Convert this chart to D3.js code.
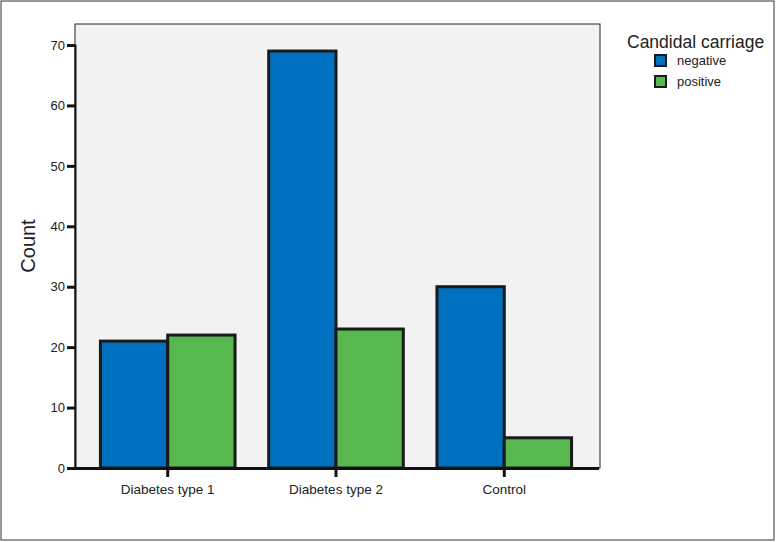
<!DOCTYPE html>
<html><head><meta charset="utf-8">
<script src="https://cdn.jsdelivr.net/npm/d3@7"></script>
<style>body{margin:0;background:#fff;}svg{display:block;font-family:"Liberation Sans",Arial,sans-serif;}</style>
</head><body><div id="chart"></div>
<script>
const categories = ["Diabetes type 1", "Diabetes type 2", "Control"];
const seriesNames = ["negative", "positive"];
const negative = [21, 69, 30];
const positive = [22, 23, 5];
const yTicks = [0, 10, 20, 30, 40, 50, 60, 70];
const colors = ["#0070c0", "#57b84f"];

const W = 776, H = 542;
const svg = d3.select("#chart").append("svg").attr("width", W).attr("height", H);
svg.append("rect").attr("x", 1).attr("y", 1).attr("width", W - 3).attr("height", H - 3)
  .attr("fill", "#fff").attr("stroke", "#333").attr("stroke-width", 1);

const L = 75, R = 600, T = 24, B = 468;
svg.append("rect").attr("x", L).attr("y", T).attr("width", R - L).attr("height", B - T)
  .attr("fill", "#f2f2f2").attr("stroke", "#222").attr("stroke-width", 1);

const x0 = d3.scaleBand().domain(categories).range([L - 1.5, R - 1.5]).paddingInner(0.2).paddingOuter(0.16);
const x1 = d3.scaleBand().domain(seriesNames).range([0, x0.bandwidth()]);
const y = d3.scaleLinear().domain([0, 70]).range([B, 45]);

const data = categories.map((c, i) => ({cat: c, vals: [negative[i], positive[i]]}));
const g = svg.append("g");
data.forEach(d => {
  d.vals.forEach((v, j) => {
    g.append("rect")
      .attr("x", x0(d.cat) + x1(seriesNames[j]))
      .attr("y", y(v))
      .attr("width", x1.bandwidth())
      .attr("height", B - y(v))
      .attr("fill", colors[j])
      .attr("stroke", "#1a1a1a").attr("stroke-width", 3);
  });
});

// Y axis
const yAxis = svg.append("g").attr("transform", `translate(${L},0)`)
  .call(d3.axisLeft(y).tickValues(yTicks).tickSize(8).tickPadding(2));
yAxis.select(".domain").attr("stroke", "#111").attr("stroke-width", 2);
yAxis.selectAll(".tick line").attr("stroke", "#111").attr("stroke-width", 3);
yAxis.selectAll(".tick text").attr("font-size", 13).attr("fill", "#222").attr("font-family", "Liberation Sans, Arial, sans-serif");

// X axis
const xAxis = svg.append("g").attr("transform", `translate(0,${B})`)
  .call(d3.axisBottom(x0).tickSize(9).tickPadding(7).tickSizeOuter(0));
xAxis.select(".domain").attr("stroke", "#111").attr("stroke-width", 3);
xAxis.selectAll(".tick line").attr("stroke", "#111").attr("stroke-width", 3);
xAxis.selectAll(".tick text").attr("font-size", 13.5).attr("fill", "#222").attr("font-family", "Liberation Sans, Arial, sans-serif");

// Y label
svg.append("text").attr("transform", "translate(35,246) rotate(-90)")
  .attr("text-anchor", "middle").attr("font-size", 20).attr("fill", "#222").text("Count");

// Legend
svg.append("text").attr("x", 627).attr("y", 48).attr("font-size", 17.5).attr("fill", "#222").text("Candidal carriage");
seriesNames.forEach((s, i) => {
  svg.append("rect").attr("x", 655).attr("y", 55 + i * 21).attr("width", 11).attr("height", 11)
    .attr("fill", colors[i]).attr("stroke", "#1a1a1a").attr("stroke-width", 2);
  svg.append("text").attr("x", 677).attr("y", 65 + i * 21).attr("font-size", 13).attr("fill", "#222").text(s);
});
</script></body></html>
